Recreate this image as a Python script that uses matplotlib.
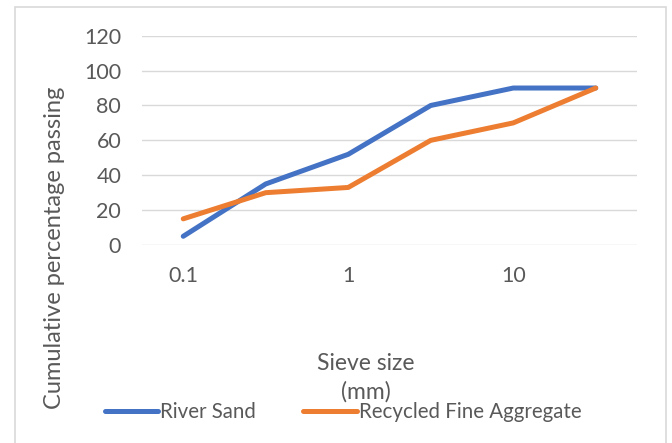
import matplotlib
matplotlib.use("Agg")
import matplotlib.pyplot as plt
from matplotlib.patches import Rectangle

# sieve categories (Excel line chart: evenly spaced categories, every other label shown)
tick_labels = ["0.1", "", "1", "", "10", ""]
river_sand = [5, 35, 52, 80, 90, 90]
recycled_fine = [15, 30, 33, 60, 70, 90]

W, H = 672, 443
plt.rcParams['font.family'] = ['Lato', 'DejaVu Sans']
text_col = '#595959'

fig = plt.figure(figsize=(W / 100, H / 100), dpi=100)

# chart border
fig.patches.append(Rectangle((15 / W, -0.05), (666 - 15) / W, (H - 7) / H + 0.05,
                             transform=fig.transFigure, fill=False,
                             edgecolor='#d9d9d9', linewidth=1.2))

ax = fig.add_axes([142 / W, (H - 245) / H, 495 / W, (245 - 35.7) / H])
x = range(len(tick_labels))
ax.plot(x, river_sand, color='#4472C4', linewidth=3.6, solid_capstyle='round',
        label='River Sand')
ax.plot(x, recycled_fine, color='#ED7D31', linewidth=3.6, solid_capstyle='round',
        label='Recycled Fine Aggregate')

ax.set_xlim(-0.5, len(tick_labels) - 0.5)
ax.set_ylim(0, 120)
ax.set_yticks(range(0, 121, 20))
ax.set_xticks(list(x))
ax.set_xticklabels(tick_labels)
ax.yaxis.grid(True, color='#d9d9d9', linewidth=1.0)
ax.set_axisbelow(True)
for s in ax.spines.values():
    s.set_visible(False)
ax.tick_params(axis='both', length=0, labelsize=15.5, labelcolor=text_col)
ax.tick_params(axis='y', pad=15)
ax.tick_params(axis='x', pad=15)

fig.text(55 / W, 1 - 247.5 / H, 'Cumulative percentage passing', rotation=90,
         ha='center', va='center', fontsize=17, color=text_col)
fig.text(366 / W, 1 - 363 / H, 'Sieve size', ha='center', va='center',
         fontsize=16.5, color=text_col)
fig.text(366 / W, 1 - 392 / H, '(mm)', ha='center', va='center',
         fontsize=16.5, color=text_col)

fig.legend(loc='center', bbox_to_anchor=(343 / W, 1 - 412 / H), ncol=2,
           frameon=False, fontsize=14.8, handlelength=2.6, handletextpad=0.1,
           columnspacing=2.3, labelcolor=text_col)

fig.savefig('out.png', dpi=100)
